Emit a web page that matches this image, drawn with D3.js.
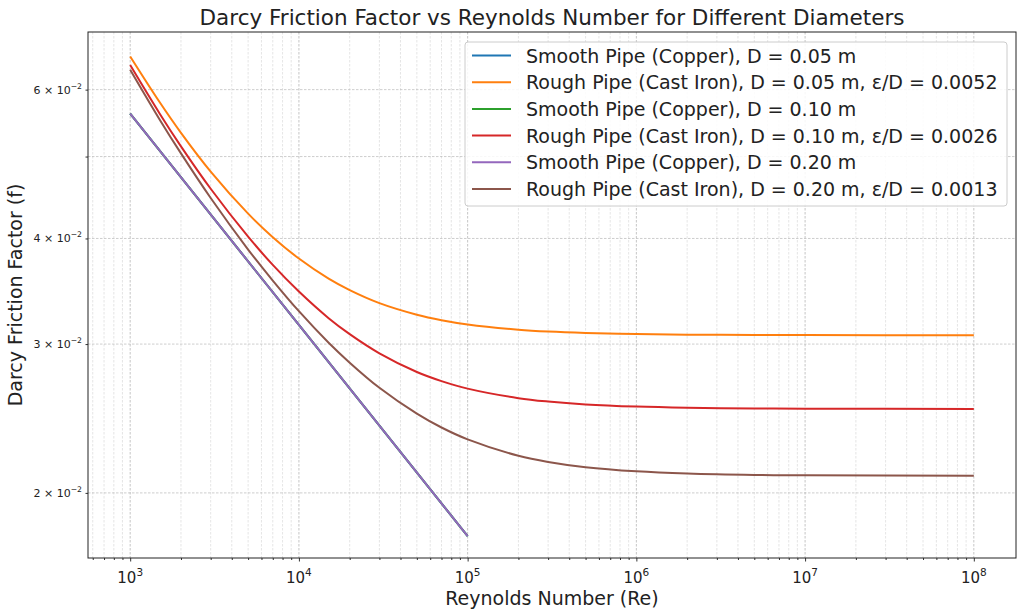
<!DOCTYPE html>
<html>
<head>
<meta charset="utf-8">
<script src="https://cdn.jsdelivr.net/npm/d3@7"></script>
<style>
  body { margin: 0; background: #fff; }
  text { font-family: "DejaVu Sans", sans-serif; }
</style>
</head>
<body>
<div id="chart"></div>
<script>
// Reynolds numbers for the smooth pipes (straight line in log-log)
const reSmooth = [1e3, 1e4, 1e5];
const fSmooth = [0.0562, 0.0316, 0.01778];

// Reynolds numbers for the rough pipes
const reRough = [1e3, 1.5e3, 2e3, 3e3, 5e3, 7e3, 1e4, 1.5e4, 2e4, 3e4, 5e4, 7e4, 1e5, 2e5, 3e5, 5e5, 1e6, 2e6, 5e6, 1e7, 1e8];
const fRough005 = [0.06568, 0.05793, 0.05334, 0.04799, 0.04280, 0.04014, 0.03787, 0.03585, 0.03475, 0.03354, 0.03250, 0.03202, 0.03165, 0.03120, 0.03104, 0.03092, 0.03083, 0.03078, 0.03075, 0.03074, 0.03073];
const fRough010 = [0.06416, 0.05616, 0.05141, 0.04580, 0.04020, 0.03722, 0.03461, 0.03219, 0.03082, 0.02925, 0.02780, 0.02712, 0.02657, 0.02589, 0.02565, 0.02545, 0.02530, 0.02522, 0.02517, 0.02516, 0.02514];
const fRough020 = [0.06335, 0.05525, 0.05043, 0.04466, 0.03881, 0.03567, 0.03281, 0.03011, 0.02852, 0.02663, 0.02482, 0.02390, 0.02314, 0.02213, 0.02176, 0.02145, 0.02121, 0.02108, 0.02100, 0.02098, 0.02095];

const seriesNames = [
  "Smooth Pipe (Copper), D = 0.05 m",
  "Rough Pipe (Cast Iron), D = 0.05 m, ε/D = 0.0052",
  "Smooth Pipe (Copper), D = 0.10 m",
  "Rough Pipe (Cast Iron), D = 0.10 m, ε/D = 0.0026",
  "Smooth Pipe (Copper), D = 0.20 m",
  "Rough Pipe (Cast Iron), D = 0.20 m, ε/D = 0.0013"
];
const seriesColours = ["#1f77b4", "#ff7f0e", "#2ca02c", "#d62728", "#9467bd", "#8c564b"];

// tick labels
const xTickValues = [1e3, 1e4, 1e5, 1e6, 1e7, 1e8];
const xTickExp = ["3", "4", "5", "6", "7", "8"];
const yTickValues = [0.02, 0.03, 0.04, 0.05, 0.06];
const yTickLabels = ["2", "3", "4", "", "6"];

// build the series
const series = [
  { re: reSmooth, f: fSmooth },
  { re: reRough, f: fRough005 },
  { re: reSmooth, f: fSmooth },
  { re: reRough, f: fRough010 },
  { re: reSmooth, f: fSmooth },
  { re: reRough, f: fRough020 }
].map((s, i) => ({
  name: seriesNames[i],
  colour: seriesColours[i],
  points: s.re.map((r, j) => ({ re: r, f: s.f[j] }))
}));

// dimensions
const width = 1024;
const height = 616;
const marginTop = 32;
const marginRight = 8;
const marginBottom = 58;
const marginLeft = 88;

const graph = d3.create("svg")
  .attr("width", width)
  .attr("height", height);

// scales (log on both)
const xscale = d3.scaleLog()
  .domain([Math.pow(10, 2.75), Math.pow(10, 8.25)])
  .range([marginLeft, width - marginRight]);

const yscale = d3.scaleLog()
  .domain([0.01675, 0.0702])
  .range([height - marginBottom, marginTop]);

// grid lines: decades + in-between values on x, listed ticks on y
const xGrid = [];
for (let e = 2; e <= 8; e++) {
  for (let m = 1; m <= 9; m++) {
    const v = m * Math.pow(10, e);
    if (v >= xscale.domain()[0] && v <= xscale.domain()[1]) xGrid.push(v);
  }
}

const grid = graph.append("g");
grid.selectAll("line.xg")
  .data(xGrid)
  .join("line")
  .attr("x1", d => xscale(d)).attr("x2", d => xscale(d))
  .attr("y1", marginTop).attr("y2", height - marginBottom)
  .attr("stroke", d => xTickValues.includes(d) ? "#b8b8b8" : "#d4d4d4")
  .attr("stroke-width", d => xTickValues.includes(d) ? 0.8 : 0.6)
  .attr("stroke-dasharray", "2.5,1.5");

grid.selectAll("line.yg")
  .data(yTickValues)
  .join("line")
  .attr("x1", marginLeft).attr("x2", width - marginRight)
  .attr("y1", d => yscale(d)).attr("y2", d => yscale(d))
  .attr("stroke", "#b8b8b8")
  .attr("stroke-width", 0.7)
  .attr("stroke-dasharray", "2.5,1.5");

// x axis
const xAxis = graph.append("g")
  .attr("transform", `translate(0, ${height - marginBottom})`)
  .call(d3.axisBottom(xscale).tickValues(xGrid).tickSize(2.5).tickFormat(""));
xAxis.select(".domain").remove();
xAxis.selectAll(".tick line")
  .attr("stroke", "#333")
  .attr("y2", d => xTickValues.includes(d) ? 3.5 : 2);

const xLabels = graph.append("g");
xTickValues.forEach((v, i) => {
  const t = xLabels.append("text")
    .attr("x", xscale(v))
    .attr("y", height - marginBottom + 25)
    .attr("text-anchor", "middle")
    .attr("font-size", 15)
    .attr("fill", "#222");
  t.append("tspan").text("10");
  t.append("tspan").attr("dy", -7).attr("font-size", 10.5).text(xTickExp[i]);
});

// y axis
const yAxis = graph.append("g")
  .attr("transform", `translate(${marginLeft},0)`)
  .call(d3.axisLeft(yscale).tickValues(yTickValues).tickSize(2.5).tickFormat(""));
yAxis.select(".domain").remove();
yAxis.selectAll(".tick line").attr("stroke", "#333");

const yLabels = graph.append("g");
yTickValues.forEach((v, i) => {
  if (!yTickLabels[i]) return;
  const t = yLabels.append("text")
    .attr("x", marginLeft - 6)
    .attr("y", yscale(v) + 4)
    .attr("text-anchor", "end")
    .attr("font-size", 11)
    .attr("fill", "#222");
  t.append("tspan").text(yTickLabels[i] + " × 10");
  t.append("tspan").attr("dy", -5).attr("font-size", 7.7).text("−2");
});

// frame
graph.append("rect")
  .attr("x", marginLeft).attr("y", marginTop)
  .attr("width", width - marginLeft - marginRight)
  .attr("height", height - marginTop - marginBottom)
  .attr("fill", "none")
  .attr("stroke", "#222")
  .attr("stroke-width", 1);

// lines
const lineGenerator = d3.line()
  .x(d => xscale(d.re))
  .y(d => yscale(d.f))
  .curve(d3.curveCatmullRom.alpha(0.5));

for (const s of series) {
  graph.append("path")
    .attr("fill", "none")
    .attr("stroke", s.colour)
    .attr("stroke-width", 2)
    .attr("d", lineGenerator(s.points));
}

// title and axis labels
graph.append("text")
  .attr("x", (marginLeft + width - marginRight) / 2)
  .attr("y", 25)
  .attr("text-anchor", "middle")
  .attr("font-size", 21.5)
  .attr("fill", "#222")
  .text("Darcy Friction Factor vs Reynolds Number for Different Diameters");

graph.append("text")
  .attr("x", (marginLeft + width - marginRight) / 2)
  .attr("y", 605)
  .attr("text-anchor", "middle")
  .attr("font-size", 19)
  .attr("fill", "#222")
  .text("Reynolds Number (Re)");

graph.append("text")
  .attr("transform", `translate(22, ${(marginTop + height - marginBottom) / 2}) rotate(-90)`)
  .attr("text-anchor", "middle")
  .attr("font-size", 19)
  .attr("fill", "#222")
  .text("Darcy Friction Factor (f)");

// legend
const legend = graph.append("g").attr("transform", "translate(465, 42)");
legend.append("rect")
  .attr("width", 542).attr("height", 164)
  .attr("rx", 3)
  .attr("fill", "#fff").attr("fill-opacity", 0.85)
  .attr("stroke", "#cccccc");

series.forEach((s, i) => {
  const y = 13.5 + i * 26.7;
  legend.append("line")
    .attr("x1", 7).attr("x2", 46)
    .attr("y1", y).attr("y2", y)
    .attr("stroke", s.colour)
    .attr("stroke-width", 2);
  legend.append("text")
    .attr("x", 61).attr("y", y + 7)
    .attr("font-size", 19)
    .attr("fill", "#222")
    .text(s.name);
});

chart.append(graph.node());
</script>
</body>
</html>
